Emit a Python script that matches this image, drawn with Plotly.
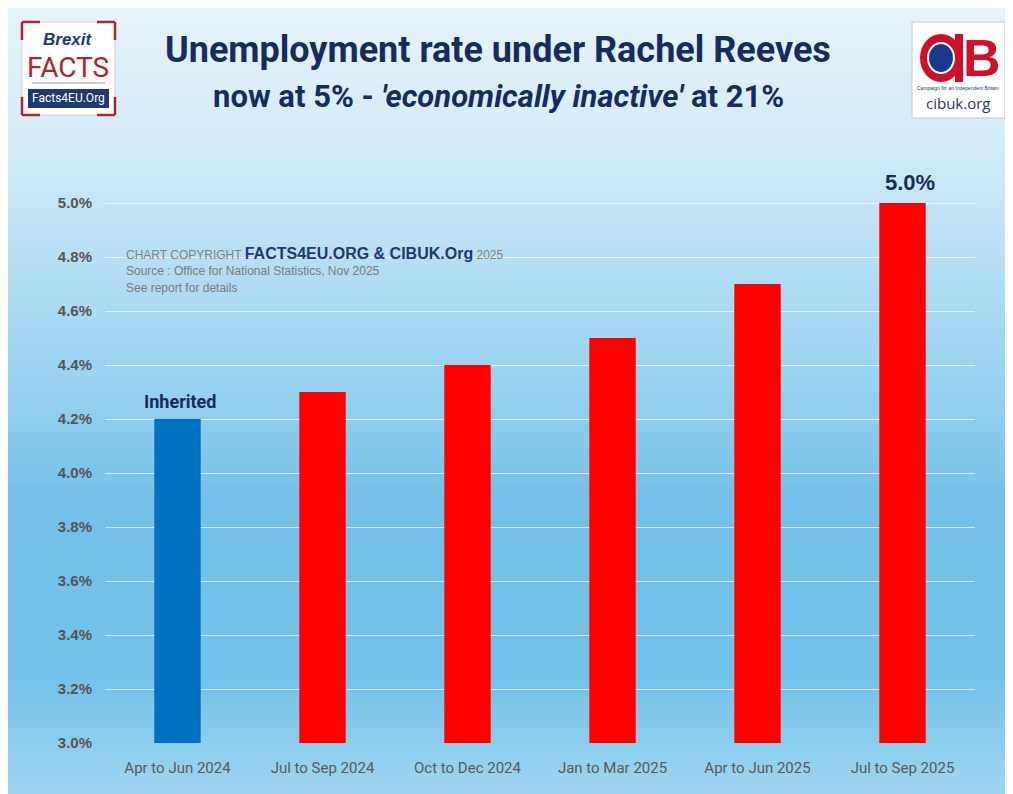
import plotly.graph_objects as go

# ---- data ----
categories = ["Apr to Jun 2024", "Jul to Sep 2024", "Oct to Dec 2024",
              "Jan to Mar 2025", "Apr to Jun 2025", "Jul to Sep 2025"]
rates = [4.2, 4.3, 4.4, 4.5, 4.7, 5.0]
bar_colors = ["#0070c0", "#ff0000", "#ff0000", "#ff0000", "#ff0000", "#ff0000"]
tick_vals = [3.0, 3.2, 3.4, 3.6, 3.8, 4.0, 4.2, 4.4, 4.6, 4.8, 5.0]
tick_text = ["3.0%", "3.2%", "3.4%", "3.6%", "3.8%", "4.0%", "4.2%", "4.4%", "4.6%", "4.8%", "5.0%"]

# page body has an 8px margin, so the figure is 8px smaller than the window
OFF = 8
W, H = 1013 - OFF, 794 - OFF
L, R, T, B = 105, 975, 149, 743  # plot area in reference pixels


def px(x):
    return (x - L) / (R - L)


def py(y):
    return (B - y) / (B - T)


COND = "Roboto, Arial"
NAVY = "#142d5e"

fig = go.Figure()
fig.add_trace(go.Bar(x=categories, y=rates, marker=dict(color=bar_colors, line=dict(width=0)),
                     hoverinfo="x+y"))

shapes = []
# background gradient (card)
stops = [(0, (232, 244, 251)), (130, (214, 236, 248)), (250, (184, 224, 244)),
         (400, (148, 208, 239)), (500, (116, 192, 232)), (680, (116, 194, 233)),
         (800, (160, 214, 240))]
n = 160
for i in range(n):
    y0 = OFF + (800 - OFF) * i / n
    y1 = OFF + (800 - OFF) * (i + 1) / n + 0.8
    ym = (y0 + y1) / 2
    c = stops[-1][1]
    for j in range(len(stops) - 1):
        if stops[j][0] <= ym <= stops[j + 1][0]:
            t = (ym - stops[j][0]) / (stops[j + 1][0] - stops[j][0])
            c = tuple(int(round(stops[j][1][k] + t * (stops[j + 1][1][k] - stops[j][1][k]))) for k in range(3))
            break
    shapes.append(dict(type="rect", xref="paper", yref="paper", layer="below",
                       x0=px(OFF), x1=px(1008), y0=py(y1), y1=py(y0),
                       fillcolor="rgb(%d,%d,%d)" % c, line=dict(width=0)))

# left logo: white box with red corner brackets
shapes.append(dict(type="rect", xref="paper", yref="paper", x0=px(22), x1=px(115), y0=py(115), y1=py(22),
                   fillcolor="white", line=dict(color="#e8c8ca", width=1)))
for (xa, xb, ya, yb) in [(22, 40, 22, 22), (22, 22, 22, 40), (97, 115, 22, 22), (115, 115, 22, 40),
                         (22, 40, 115, 115), (22, 22, 97, 115), (97, 115, 115, 115), (115, 115, 97, 115)]:
    shapes.append(dict(type="line", xref="paper", yref="paper", x0=px(xa), x1=px(xb), y0=py(ya), y1=py(yb),
                       line=dict(color="#b0252c", width=2.5)))
shapes.append(dict(type="rect", xref="paper", yref="paper", x0=px(28), x1=px(109), y0=py(108), y1=py(89),
                   fillcolor="#1f3a70", line=dict(width=0)))
shapes.append(dict(type="line", xref="paper", yref="paper", x0=px(32), x1=px(105), y0=py(83), y1=py(83),
                   line=dict(color="#8aa0c0", width=1)))
# right logo
shapes.append(dict(type="rect", xref="paper", yref="paper", x0=px(912), x1=px(1005), y0=py(118), y1=py(22),
                   fillcolor="white", line=dict(color="#c8c8c8", width=1)))
shapes.append(dict(type="circle", xref="paper", yref="paper", x0=px(920), x1=px(962), y0=py(82), y1=py(34),
                   fillcolor="#d0102a", line=dict(width=0)))
shapes.append(dict(type="circle", xref="paper", yref="paper", x0=px(928), x1=px(954), y0=py(73), y1=py(43),
                   fillcolor="#1a3a8a", line=dict(color="white", width=2)))
shapes.append(dict(type="rect", xref="paper", yref="paper", x0=px(955), x1=px(963), y0=py(82), y1=py(34),
                   fillcolor="#d0102a", line=dict(width=0)))

annotations = []
# titles
annotations.append(dict(xref="paper", yref="paper", x=px(498), y=py(50), text="<b>Unemployment rate under Rachel Reeves</b>",
                        showarrow=False, font=dict(family=COND, size=36, color=NAVY), xanchor="center", yanchor="middle"))
annotations.append(dict(xref="paper", yref="paper", x=px(498), y=py(97),
                        text="<b>now at 5% - <i>'economically inactive'</i> at 21%</b>",
                        showarrow=False, font=dict(family=COND, size=31, color=NAVY), xanchor="center", yanchor="middle"))
# logo texts
annotations.append(dict(xref="paper", yref="paper", x=px(68), y=py(40), text="<b><i>Brexit</i></b>", showarrow=False,
                        font=dict(family="Liberation Sans, Arial", size=17, color="#1f3a70"), xanchor="center", yanchor="middle"))
annotations.append(dict(xref="paper", yref="paper", x=px(68), y=py(67), text="FACTS", showarrow=False,
                        font=dict(family=COND, size=28, color="#b0252c"), xanchor="center", yanchor="middle"))
annotations.append(dict(xref="paper", yref="paper", x=px(68), y=py(98), text="Facts4EU.Org", showarrow=False,
                        font=dict(family=COND, size=12, color="white"), xanchor="center", yanchor="middle"))
annotations.append(dict(xref="paper", yref="paper", x=px(982), y=py(58), text="<b>B</b>", showarrow=False,
                        font=dict(family="Liberation Sans, Arial", size=52, color="#d0102a"), xanchor="center", yanchor="middle"))
annotations.append(dict(xref="paper", yref="paper", x=px(958), y=py(88), text="Campaign for an Independent Britain", showarrow=False,
                        font=dict(family="Liberation Sans Narrow, Arial", size=5, color="#1f3a70"), xanchor="center", yanchor="middle"))
annotations.append(dict(xref="paper", yref="paper", x=px(958), y=py(103), text="cibuk.org", showarrow=False,
                        font=dict(family="Open Sans, Arial", size=15, color="#1f3a70"), xanchor="center", yanchor="middle"))
# copyright block
annotations.append(dict(xref="paper", yref="paper", x=px(124), y=py(253), xanchor="left", yanchor="middle", showarrow=False,
                        text="<span style='font-size:12px;color:#808080'>CHART COPYRIGHT </span>"
                             "<span style='font-size:16px;color:#1f3a70'><b>FACTS4EU.ORG &amp; CIBUK.Org</b></span>"
                             "<span style='font-size:12px;color:#808080'> 2025</span>",
                        font=dict(family="Liberation Sans, Arial", size=12, color="#808080")))
annotations.append(dict(xref="paper", yref="paper", x=px(124), y=py(271), xanchor="left", yanchor="middle", showarrow=False,
                        text="Source : Office for National Statistics, Nov 2025",
                        font=dict(family="Liberation Sans, Arial", size=12, color="#7a7a7a")))
annotations.append(dict(xref="paper", yref="paper", x=px(124), y=py(288), xanchor="left", yanchor="middle", showarrow=False,
                        text="See report for details",
                        font=dict(family="Liberation Sans, Arial", size=12, color="#7a7a7a")))
# bar labels
annotations.append(dict(x=categories[0], y=rates[0], yanchor="bottom", yshift=5, xshift=2, showarrow=False,
                        text="<b>Inherited</b>",
                        font=dict(family="Roboto, Arial", size=18, color=NAVY)))
annotations.append(dict(x=categories[-1], y=rates[-1], yanchor="bottom", yshift=6, xshift=7, showarrow=False,
                        text="<b>%.1f%%</b>" % rates[-1],
                        font=dict(family="Liberation Sans, Arial", size=22, color=NAVY)))

fig.update_layout(
    width=W, height=H,
    margin=dict(l=L - OFF, r=W - (R - OFF), t=T - OFF, b=H - (B - OFF), pad=0),
    paper_bgcolor="white", plot_bgcolor="rgba(0,0,0,0)",
    showlegend=False, bargap=0.68,
    shapes=shapes, annotations=annotations,
    xaxis=dict(showgrid=False, showline=False, zeroline=False, ticks="",
               tickfont=dict(family=COND, size=15, color="#5a5a5a"), ticklabelstandoff=14),
    yaxis=dict(range=[3.0, 5.2], tickvals=tick_vals, ticktext=tick_text, showgrid=True,
               gridcolor="rgba(255,255,255,0.65)", gridwidth=1, zeroline=False, showline=False,
               tickfont=dict(family="Liberation Sans, Arial", size=15, color="#555555", weight="bold"),
               ticklabelstandoff=12),
)

fig.write_html("out.html")
